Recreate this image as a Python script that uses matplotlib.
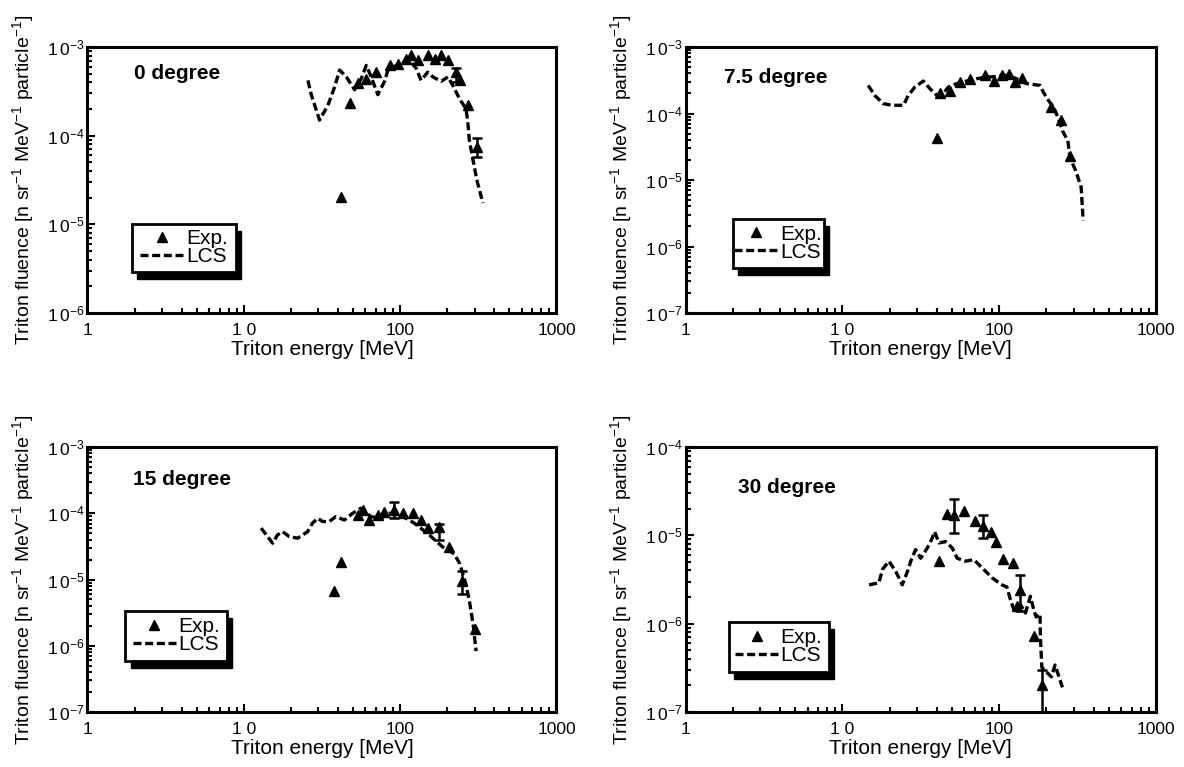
import numpy as np
import matplotlib
matplotlib.use('Agg')
import matplotlib.pyplot as plt
from matplotlib.lines import Line2D
from matplotlib.patches import Rectangle
from matplotlib.ticker import FixedLocator, LogLocator, NullFormatter, FuncFormatter, FixedFormatter

plt.rcParams['font.family'] = ['Liberation Sans', 'DejaVu Sans']
plt.rcParams['mathtext.fontset'] = 'custom'
plt.rcParams['mathtext.rm'] = 'Liberation Sans'

# ---- 0 degree ----
e0_lcs = [25.7, 27, 30.5, 34.5, 38.1, 41, 45.3, 51.1, 56.4, 60.7, 65.3, 72, 79.5, 83.5, 99,
          115, 127, 136, 150, 162, 183, 202, 217, 240, 264, 271, 277, 292, 309, 338]
f0_lcs = [4.2e-4, 2.9e-4, 1.5e-4, 2.2e-4, 3.55e-4, 5.5e-4, 4.6e-4, 3.3e-4, 4.4e-4, 6.2e-4,
          4.6e-4, 2.9e-4, 4.1e-4, 5.5e-4, 6.5e-4, 7.1e-4, 5.7e-4, 4.2e-4, 5.2e-4, 4.6e-4,
          4.1e-4, 4.6e-4, 3.7e-4, 2.6e-4, 2.0e-4, 1.4e-4, 8.9e-5, 5.4e-5, 3.2e-5, 1.74e-5]
e0_exp = [42, 47.5, 53.7, 60.7, 70.4, 85.5, 96.6, 109, 118, 130, 150, 166, 183, 202, 240, 271]
f0_exp = [2.05e-5, 2.35e-4, 3.9e-4, 4.4e-4, 5.2e-4, 6.2e-4, 6.5e-4, 7.4e-4, 8.1e-4, 7.1e-4,
          8.1e-4, 7.4e-4, 8.1e-4, 7.1e-4, 4.2e-4, 2.2e-4]
e0_bar = [228, 310]
f0_bar = [5.2e-4, 7.4e-5]
f0_lo = [4.0e-4, 5.7e-5]
f0_hi = [5.8e-4, 9.4e-5]

# ---- 7.5 degree ----
e1_lcs = [14.6, 16.1, 18.2, 20.6, 24.5, 26.3, 29, 32.8, 36.2, 40, 44, 47.4, 53.6, 62, 72, 83,
          96.5, 112, 129, 150, 182, 191, 206, 222, 239, 253, 274, 282, 307, 333, 343]
f1_lcs = [2.65e-4, 1.87e-4, 1.41e-4, 1.33e-4, 1.33e-4, 1.87e-4, 2.5e-4, 3.08e-4, 2.36e-4,
          1.87e-4, 2.0e-4, 2.5e-4, 2.81e-4, 3.08e-4, 3.34e-4, 3.53e-4, 3.6e-4, 3.75e-4,
          3.34e-4, 2.81e-4, 2.65e-4, 2.1e-4, 1.57e-4, 1.25e-4, 8.3e-5, 5.5e-5, 3.9e-5,
          2.2e-5, 1.39e-5, 7.8e-6, 2.45e-6]
e1_exp = [40, 42, 48.6, 56.3, 65, 81, 92, 104, 115, 126, 139, 214, 246, 282]
f1_exp = [4.3e-5, 2.0e-4, 2.2e-4, 2.97e-4, 3.34e-4, 3.75e-4, 3.08e-4, 3.75e-4, 3.98e-4,
          2.97e-4, 3.45e-4, 1.25e-4, 7.9e-5, 2.3e-5]
e1_bar = []
f1_bar = []
f1_lo = []
f1_hi = []

# ---- 15 degree ----
e2_lcs = [12.9, 14.2, 15.3, 16.4, 17.7, 19.5, 22.1, 25.6, 27.5, 29.7, 31.9, 35.2, 38.8, 44,
          49.7, 56, 65, 75.5, 85, 96.5, 109, 123, 140, 154, 168, 188, 222, 241, 263, 277,
          293, 306]
f2_lcs = [5.96e-5, 4.45e-5, 3.53e-5, 4.7e-5, 5.28e-5, 4.45e-5, 4.2e-5, 5.28e-5, 7.1e-5,
          8.4e-5, 7.5e-5, 7.5e-5, 8.9e-5, 7.9e-5, 1.0e-4, 1.19e-4, 8.9e-5, 8.4e-5, 1.0e-4,
          9.5e-5, 8.4e-5, 7.1e-5, 5.6e-5, 4.7e-5, 3.87e-5, 3.07e-5, 2.43e-5, 1.72e-5,
          8.6e-6, 4.8e-6, 2.1e-6, 8.3e-7]
e2_exp = [37.9, 41.8, 53.5, 57.6, 63.5, 71.9, 79.2, 104, 120, 136, 150, 204, 302]
f2_exp = [6.6e-6, 1.86e-5, 9.5e-5, 1.12e-4, 7.9e-5, 9.5e-5, 1.06e-4, 1.0e-4, 1.0e-4,
          7.9e-5, 5.96e-5, 3.07e-5, 1.78e-6]
e2_bar = [91.8, 178, 248]
f2_bar = [1.12e-4, 6.2e-5, 9.6e-6]
f2_lo = [8.5e-5, 3.9e-5, 6.0e-6]
f2_hi = [1.48e-4, 6.9e-5, 1.36e-5]

# ---- 30 degree ----
e3_lcs = [14.8, 17.1, 18, 19.8, 21.9, 24.1, 26, 27.3, 29.3, 31.6, 34.8, 37.4, 38.7, 41.3,
          45.5, 50.2, 54, 61, 68.9, 79.8, 90.2, 104, 112, 118, 124, 137, 147, 158, 166, 172,
          182, 183, 187, 215, 227, 253]
f3_lcs = [2.75e-6, 2.9e-6, 4.1e-6, 5.1e-6, 3.9e-6, 2.75e-6, 3.9e-6, 5.1e-6, 6.9e-6, 5.5e-6,
          7.2e-6, 9.3e-6, 1.1e-5, 8.2e-6, 8.5e-6, 7.2e-6, 5.5e-6, 5.1e-6, 5.3e-6, 4.1e-6,
          3.3e-6, 2.75e-6, 2.6e-6, 1.86e-6, 1.44e-6, 1.63e-6, 1.32e-6, 2.04e-6, 1.44e-6,
          1.19e-6, 1.29e-6, 7.1e-7, 3.2e-7, 2.5e-7, 3.4e-7, 1.9e-7]
e3_exp = [41.3, 46.2, 59.5, 69.6, 88, 96, 106, 123, 130, 166]
f3_exp = [5.1e-6, 1.76e-5, 1.91e-5, 1.44e-5, 1.1e-5, 8.5e-6, 5.4e-6, 4.9e-6, 1.58e-6, 7.2e-7]
e3_bar = [51.4, 79, 135, 187]
f3_bar = [1.7e-5, 1.26e-5, 2.4e-6, 2.0e-7]
f3_lo = [1.06e-5, 9.4e-6, 1.38e-6, 1e-8]
f3_hi = [2.58e-5, 1.7e-5, 3.6e-6, 3.0e-7]

x_ticks = [1, 10, 100, 1000]
x_tick_labels = ['1', '1 0', '100', '1000']

LW = 2.4
DASH = (2.4, 1.1)


def pow_label(v, pos):
    return r'$\mathregular{1\,0^{%d}}$' % int(round(np.log10(v)))


def panel(rect, title, title_xy, ylim, lcs, exp, bars, legbox):
    ax = fig.add_axes(rect)
    ax.set_xscale('log')
    ax.set_yscale('log')
    ax.set_xlim(1, 1000)
    ax.set_ylim(*ylim)

    ax.plot(lcs[0], lcs[1], color='k', lw=LW, ls='--', dashes=DASH, zorder=2)
    ax.plot(exp[0], exp[1], ls='none', marker='^', ms=7, color='k', zorder=3)
    if len(bars[0]):
        f = np.array(bars[1])
        yerr = [f - np.array(bars[2]), np.array(bars[3]) - f]
        ax.errorbar(bars[0], f, yerr=yerr, fmt='^', ms=7, color='k',
                    elinewidth=1.8, capsize=3.5, capthick=1.8, zorder=3)

    ax.xaxis.set_major_locator(FixedLocator(x_ticks))
    ax.xaxis.set_major_formatter(FixedFormatter(x_tick_labels))
    ax.xaxis.set_minor_locator(LogLocator(base=10, subs=np.arange(2, 10)))
    ax.xaxis.set_minor_formatter(NullFormatter())
    lo, hi = int(np.log10(ylim[0])), int(np.log10(ylim[1]))
    ax.yaxis.set_major_locator(FixedLocator([10.0 ** k for k in range(lo, hi + 1)]))
    ax.yaxis.set_major_formatter(FuncFormatter(pow_label))
    ax.yaxis.set_minor_locator(LogLocator(base=10, subs=np.arange(2, 10)))
    ax.yaxis.set_minor_formatter(NullFormatter())

    ax.tick_params(which='both', direction='in', top=False, right=False, width=1.5)
    ax.tick_params(which='major', length=6)
    ax.tick_params(which='minor', length=3.5)
    ax.tick_params(axis='x', labelsize=12.5, pad=7)
    ax.tick_params(axis='y', labelsize=12.5, pad=2)
    for s in ax.spines.values():
        s.set_linewidth(2.2)

    ax.set_xlabel('Triton energy [MeV]', fontsize=15)
    ax.set_ylabel(r'Triton fluence [n sr$^{\mathregular{-1}}$ MeV$^{\mathregular{-1}}$ '
                  r'particle$^{\mathregular{-1}}$]', fontsize=14)
    ax.xaxis.set_label_coords(0.5, -0.10)
    ax.yaxis.set_label_coords(-0.107, 0.5)

    ax.text(title_xy[0], title_xy[1], title, transform=ax.transAxes,
            fontsize=15, fontweight='bold', va='center', ha='left')

    # legend box with a solid drop shadow
    x0, y0, w, h = legbox
    ax.add_patch(Rectangle((x0 + 0.011, y0 - 0.027), w, h, transform=ax.transAxes,
                           facecolor='k', edgecolor='k', zorder=4, clip_on=False))
    ax.add_patch(Rectangle((x0, y0), w, h, transform=ax.transAxes, facecolor='white',
                           edgecolor='k', lw=2, zorder=4.5, clip_on=False))
    handles = [Line2D([], [], ls='none', marker='^', ms=7, color='k'),
               Line2D([], [], ls='--', dashes=DASH, lw=LW, color='k')]
    leg = ax.legend(handles, ['Exp.', 'LCS'], loc='center',
                    bbox_to_anchor=(x0, y0, w, h), frameon=False, fontsize=15,
                    handlelength=2.1, handletextpad=0.1, labelspacing=-0.05,
                    borderpad=0, borderaxespad=0, numpoints=1)
    leg.set_zorder(5)
    return ax


fig = plt.figure(figsize=(11.84, 7.67), dpi=100)

panel([0.0739, 0.5919, 0.3961, 0.3468], '0 degree', (0.099, 0.90), (1e-6, 1e-3),
      (e0_lcs, f0_lcs), (e0_exp, f0_exp), (e0_bar, f0_bar, f0_lo, f0_hi),
      (0.095, 0.156, 0.221, 0.179))
panel([0.5790, 0.5919, 0.3974, 0.3468], '7.5 degree', (0.081, 0.886), (1e-7, 1e-3),
      (e1_lcs, f1_lcs), (e1_exp, f1_exp), (e1_bar, f1_bar, f1_lo, f1_hi),
      (0.10, 0.171, 0.194, 0.184))
panel([0.0739, 0.0717, 0.3961, 0.3455], '15 degree', (0.096, 0.876), (1e-7, 1e-3),
      (e2_lcs, f2_lcs), (e2_exp, f2_exp), (e2_bar, f2_bar, f2_lo, f2_hi),
      (0.081, 0.193, 0.217, 0.189))
panel([0.5790, 0.0717, 0.3974, 0.3455], '30 degree', (0.112, 0.849), (1e-7, 1e-4),
      (e3_lcs, f3_lcs), (e3_exp, f3_exp), (e3_bar, f3_bar, f3_lo, f3_hi),
      (0.092, 0.151, 0.212, 0.189))

fig.savefig('out.png', dpi=100, facecolor='white')
